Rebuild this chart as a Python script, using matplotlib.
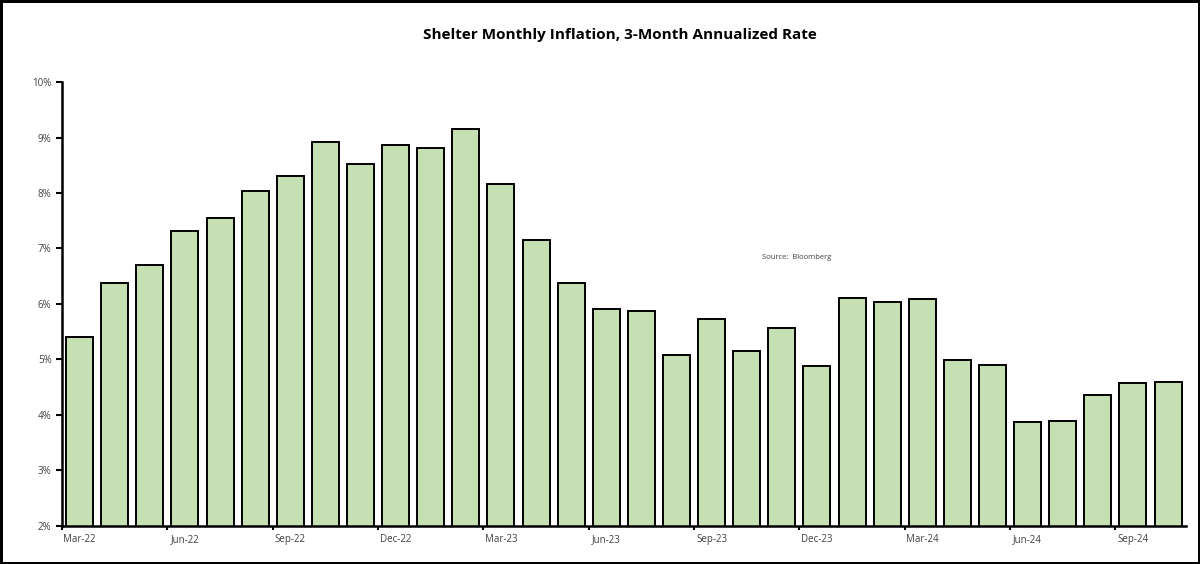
import numpy as np
import matplotlib.pyplot as plt
from matplotlib.ticker import FuncFormatter

# months Mar-22 .. Oct-24
MONTHS = ["Mar-22", "Apr-22", "May-22", "Jun-22", "Jul-22", "Aug-22", "Sep-22", "Oct-22",
          "Nov-22", "Dec-22", "Jan-23", "Feb-23", "Mar-23", "Apr-23", "May-23", "Jun-23",
          "Jul-23", "Aug-23", "Sep-23", "Oct-23", "Nov-23", "Dec-23", "Jan-24", "Feb-24",
          "Mar-24", "Apr-24", "May-24", "Jun-24", "Jul-24", "Aug-24", "Sep-24", "Oct-24"]
SHELTER_3M = [5.41, 6.38, 6.70, 7.32, 7.55, 8.04, 8.31, 8.92,
              8.52, 8.86, 8.81, 9.15, 8.16, 7.15, 6.38, 5.91,
              5.87, 5.08, 5.73, 5.15, 5.57, 4.88, 6.11, 6.04,
              6.09, 4.99, 4.90, 3.87, 3.89, 4.36, 4.58, 4.59]

TITLE = "Shelter Monthly Inflation, 3-Month Annualized Rate"
SOURCE = "Source:  Bloomberg"
BAR_COLOR = "#c6e0b4"
LABEL_COLOR = "#404040"

plt.rcParams['font.family'] = ['Open Sans', 'DejaVu Sans']

fig = plt.figure(figsize=(12, 5.64), dpi=100, edgecolor="black", linewidth=2.5)
ax = fig.add_axes([0.0517, 0.0674, 0.9363, 0.7872])

x = np.arange(len(MONTHS))
ax.bar(x, SHELTER_3M, width=0.77, bottom=0, color=BAR_COLOR,
       edgecolor="black", linewidth=1.4, zorder=2)

ax.set_xlim(-0.5, len(MONTHS) - 0.5)
ax.set_ylim(2, 10)
ax.set_yticks(np.arange(2, 11, 1))
ax.yaxis.set_major_formatter(FuncFormatter(lambda v, p: f"{v:.0f}%"))

# major ticks at quarter boundaries, labels under the bar of the quarter month
ax.set_xticks(np.arange(-0.5, len(MONTHS), 3))
ax.set_xticklabels([])
ax.set_xticks(x[::3], minor=True)
ax.set_xticklabels([MONTHS[i] for i in x[::3]], minor=True)
ax.tick_params(axis="x", which="minor", length=0, labelsize=7, pad=6,
               labelcolor=LABEL_COLOR)
ax.tick_params(axis="x", which="major", length=3, width=1.5, direction="out")
ax.tick_params(axis="y", length=4, width=1.5, labelsize=7, direction="out",
               labelcolor=LABEL_COLOR)

for side in ["top", "right"]:
    ax.spines[side].set_visible(False)
for side in ["left", "bottom"]:
    ax.spines[side].set_linewidth(1.8)

fig.text(0.5167, 0.938, TITLE, ha="center", va="center", fontsize=11, fontweight="bold")
fig.text(0.664, 0.543, SOURCE, ha="center", va="center", fontsize=5.5,
         color=LABEL_COLOR)

fig.savefig("out.png", dpi=100)
